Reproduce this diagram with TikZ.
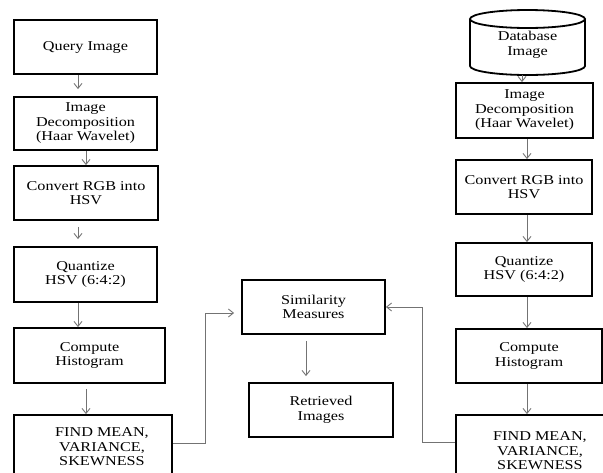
\documentclass[tikz,border=0pt]{standalone}
\usepackage{fontspec}
\setmainfont{Liberation Serif}[FakeStretch=1.2]
\usetikzlibrary{arrows.meta,calc}
\definecolor{conncol}{RGB}{115,115,115}
\begin{document}
\begin{tikzpicture}[x=1pt,y=1pt,yscale=-1,
  box/.style={draw=black, line width=1.8pt, inner sep=0pt, align=center, font=\fontsize{13.5}{14.5}\selectfont},
  lbl/.style={inner sep=0pt, align=center, font=\fontsize{13.5}{14.5}\selectfont},
  conn/.style={draw=conncol, line width=0.9pt, -{Straight Barb[length=5pt,width=8pt]}}]
\useasboundingbox (0,0) rectangle (603,472);
\clip (0,0) rectangle (603,472);
% left column
\node[box, minimum width=143pt, minimum height=54pt] (q) at (85.5,47) {Query Image};
\node[box, minimum width=143pt, minimum height=53pt] (decL) at (85.5,123.5) {Image\\Decomposition\\(Haar Wavelet)};
\node[box, minimum width=144pt, minimum height=54pt] (convL) at (86,193) {Convert RGB into\\HSV};
\node[box, minimum width=143pt, minimum height=55pt] (quantL) at (85.5,274.5) {Quantize\\HSV (6:4:2)};
\node[box, minimum width=151pt, minimum height=55pt] (compL) at (89.5,355.5) {Compute\\Histogram};
\node[box, minimum width=158pt, minimum height=85pt] (findL) at (93,457.5) {};
\node[lbl] (findLt) at (102,447) {FIND MEAN,\\VARIANCE,\\SKEWNESS};
% middle
\node[box, minimum width=143pt, minimum height=54pt] (sim) at (313.5,307) {Similarity\\Measures};
\node[box, minimum width=144pt, minimum height=54pt] (ret) at (321,410) {Retrieved\\Images};
% right column
\node[lbl, minimum width=115pt, minimum height=60pt] (db) at (527.5,45) {Database\\Image};
\draw[line width=1.8pt] (527.5,19) ellipse [x radius=57.5, y radius=9];
\draw[line width=1.8pt] (470,19) -- (470,66) arc[start angle=180, end angle=0, x radius=57.5, y radius=9] -- (585,19);
\node[box, minimum width=137pt, minimum height=55pt] (decR) at (524.5,110.5) {Image\\Decomposition\\(Haar Wavelet)};
\node[box, minimum width=136pt, minimum height=54pt] (convR) at (524,187) {Convert RGB into\\HSV};
\node[box, minimum width=136pt, minimum height=53pt] (quantR) at (524,269.5) {Quantize\\HSV (6:4:2)};
\node[box, minimum width=146pt, minimum height=54pt] (compR) at (529,356) {Compute\\Histogram};
\node[box, minimum width=184pt, minimum height=85pt] (findR) at (548,457.5) {};
\node[lbl] (findRt) at (540,451) {FIND MEAN,\\VARIANCE,\\SKEWNESS};
% left vertical connectors
\coordinate (a1) at ($(q.south)+(-7.5,0)$);
\draw[conn, shorten >=7pt] (a1) -- (a1 |- decL.north);
\coordinate (a2) at ($(decL.south)+(0.5,0)$);
\draw[conn] (a2) -- (a2 |- convL.north);
\coordinate (a3) at ($(convL.south)+(-8,0)$);
\draw[conn, shorten <=6pt, shorten >=7pt] (a3) -- (a3 |- quantL.north);
\coordinate (a4) at ($(quantL.south)+(-7.5,0)$);
\draw[conn] (a4) -- (a4 |- compL.north);
\coordinate (a5) at ($(compL.south)+(-3.5,0)$);
\draw[conn, shorten <=5pt] (a5) -- (a5 |- findL.north);
% right vertical connectors
\coordinate (b1) at ($(db.south)+(-5.5,0)$);
\draw[conn] (b1) -- (b1 |- decR.north);
\coordinate (b2) at ($(decR.south)+(2.5,0)$);
\draw[conn] (b2) -- (b2 |- convR.north);
\coordinate (b3) at ($(convR.south)+(3,0)$);
\draw[conn] (b3) -- (b3 |- quantR.north);
\coordinate (b4) at ($(quantR.south)+(3,0)$);
\draw[conn] (b4) -- (b4 |- compR.north);
\coordinate (b5) at ($(compR.south)+(-2,0)$);
\draw[conn] (b5) -- (b5 |- findR.north);
% to similarity
\coordinate (cL1) at ($(findL.east)+(0,-14.5)$);
\coordinate (kL) at (205,0);
\coordinate (cL2) at ($(sim.west)+(0,6)$);
\draw[conn, shorten >=7pt] (cL1) -- (cL1 -| kL) -- (kL |- cL2) -- (cL2);
\coordinate (cR1) at ($(findR.west)+(0,-15.5)$);
\coordinate (kR) at (422,0);
\draw[conn] (cR1) -- (cR1 -| kR) -- (kR |- sim.east) -- (sim.east);
% similarity to retrieved
\draw[conn, shorten <=6pt, shorten >=6pt] ($(sim.south)+(-7.5,0)$) -- ($(ret.north)+(-15,0)$);
\end{tikzpicture}
\end{document}
